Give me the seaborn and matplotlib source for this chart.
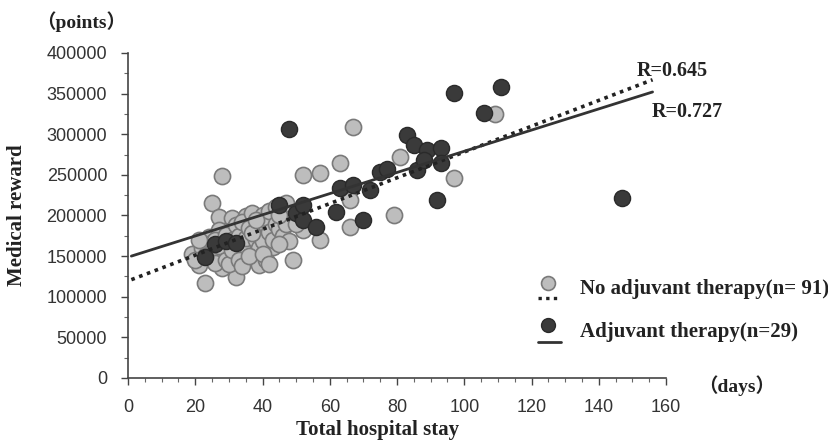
import numpy as np
import pandas as pd
import matplotlib
matplotlib.use("Agg")
import matplotlib.pyplot as plt
import seaborn as sns

# --- data (days, points) ---
no_adj_days = [67, 81, 63, 57, 52, 97, 79, 66, 66, 57, 52, 109, 49,
               28, 25, 27, 31, 35, 39, 43,
               24, 27, 31, 35, 39, 43,
               19, 21, 27, 30, 33, 28, 32, 23,
               36, 37, 39, 41, 43, 50, 34,
               22, 24, 26, 28, 29, 30, 31, 32, 33, 34, 35, 36, 37, 38, 38, 39,
               40, 40, 41, 42, 42, 43, 44, 44, 45, 46, 46, 47, 48, 48,
               25, 26, 27, 29, 30, 31, 33, 34, 36, 37, 23, 20, 21, 45, 47, 50,
               45, 38, 40, 42]
no_adj_vals = [309, 272, 264, 252, 250, 246, 200, 186, 219, 170, 182, 325, 145,
               248, 215, 198, 197, 199, 191, 197,
               173, 182, 182, 180, 177, 177,
               153, 139, 149, 151, 151, 135, 124, 117,
               166, 158, 139, 145, 161, 204, 163,
               160, 165, 170, 158, 176, 165, 170, 188, 175, 192, 172, 185, 203, 170, 183, 160,
               200, 168, 188, 180, 206, 170, 190, 210, 183, 175, 198, 190, 168, 208,
               155, 142, 163, 145, 140, 158, 145, 138, 150, 178, 150, 145, 170, 200, 215, 190,
               165, 195, 152, 140]

adj_days = [23, 26, 29, 32, 45, 50, 48, 52, 52, 56, 62, 63, 67, 70, 72,
            75, 77, 83, 85, 89, 93, 93, 86, 92, 97, 106, 111, 147, 88]
adj_vals = [149, 165, 169, 166, 213, 203, 306, 194, 213, 186, 204, 234, 237, 194, 231,
            254, 257, 299, 287, 281, 283, 265, 256, 219, 351, 326, 358, 221, 268]

# regression lines as drawn in the figure
fit_days = [1, 156]
no_adj_fit = [121000, 367000]
adj_fit = [150000, 352000]

df = pd.concat([
    pd.DataFrame({"days": no_adj_days, "reward": np.array(no_adj_vals) * 1000, "group": "No adjuvant"}),
    pd.DataFrame({"days": adj_days, "reward": np.array(adj_vals) * 1000, "group": "Adjuvant"}),
])

sns.set_style("ticks")
serif = ["Liberation Serif", "Noto Sans CJK JP"]
plt.rcParams["font.family"] = ["Liberation Sans", "DejaVu Sans"]

light, light_edge = "#bdbdbd", "#7a7a7a"
dark, dark_edge = "#3a3a3a", "#2a2a2a"

fig = plt.figure(figsize=(8.29, 4.41), dpi=100)
ax = fig.add_axes([0.1544, 0.1429, 0.649, 0.737])

sns.scatterplot(data=df[df.group == "No adjuvant"], x="days", y="reward", ax=ax,
                s=135, color=light, edgecolor=light_edge, linewidth=1.2, zorder=2, legend=False)
sns.scatterplot(data=df[df.group == "Adjuvant"], x="days", y="reward", ax=ax,
                s=135, color=dark, edgecolor=dark_edge, linewidth=1.0, zorder=3, legend=False)

sns.lineplot(x=fit_days, y=no_adj_fit, ax=ax, color="#222222", lw=2.6,
             linestyle=(0, (1, 1.3)), zorder=4)
sns.lineplot(x=fit_days, y=adj_fit, ax=ax, color="#333333", lw=2.0, zorder=4)

ax.set_xlim(0, 160)
ax.set_ylim(0, 400000)
ax.set_xticks(range(0, 161, 20))
ax.set_yticks(range(0, 400001, 50000))
ax.set_xticks(range(0, 161, 5), minor=True)
ax.set_yticks(range(0, 400001, 25000), minor=True)
ax.tick_params(axis="both", which="major", labelsize=13, labelcolor="#333333",
               length=5, width=1, color="#444444", pad=10)
ax.tick_params(axis="both", which="minor", length=3, width=0.8, color="#666666")
ax.set_xlabel("")
ax.set_ylabel("")
sns.despine(ax=ax)
for sp in ("left", "bottom"):
    ax.spines[sp].set_color("#444444")
    ax.spines[sp].set_linewidth(1.2)

bold = dict(family=serif, fontweight="bold", color="#222222")
fig.text(36 / 829, 1 - 22 / 441, "（points）", fontsize=14, va="center", ha="left", **bold)
fig.text(17 / 829, 1 - 215 / 441, "Medical reward", fontsize=15, rotation=90,
         va="center", ha="center", **bold)
fig.text(378 / 829, 1 - 430 / 441, "Total hospital stay", fontsize=15,
         va="center", ha="center", **bold)
fig.text(698 / 829, 1 - 386 / 441, "（days）", fontsize=14, va="center", ha="left", **bold)
fig.text(637 / 829, 1 - 71 / 441, "R=0.645", fontsize=14.5, va="center", ha="left", **bold)
fig.text(652 / 829, 1 - 112 / 441, "R=0.727", fontsize=14.5, va="center", ha="left", **bold)

# legend glyphs
fig.text(580 / 829, 1 - 289 / 441, "No adjuvant therapy(n= 91)", fontsize=15,
         va="center", ha="left", **bold)
fig.text(580 / 829, 1 - 332 / 441, "Adjuvant therapy(n=29)", fontsize=15,
         va="center", ha="left", **bold)
lx = [538 / 829, 561 / 829]
fig.add_artist(plt.Line2D([548 / 829], [1 - 283 / 441], marker="o", ms=10,
                          mfc=light, mec=light_edge, mew=1.2, lw=0))
fig.add_artist(plt.Line2D(lx, [1 - 298 / 441] * 2, color="#222222", lw=2.4,
                          linestyle=(0, (1, 1.3))))
fig.add_artist(plt.Line2D([548 / 829], [1 - 325 / 441], marker="o", ms=10,
                          mfc=dark, mec=dark_edge, mew=1.0, lw=0))
fig.add_artist(plt.Line2D(lx, [1 - 342 / 441] * 2, color="#333333", lw=2.0))

fig.savefig("out.png", dpi=100)
